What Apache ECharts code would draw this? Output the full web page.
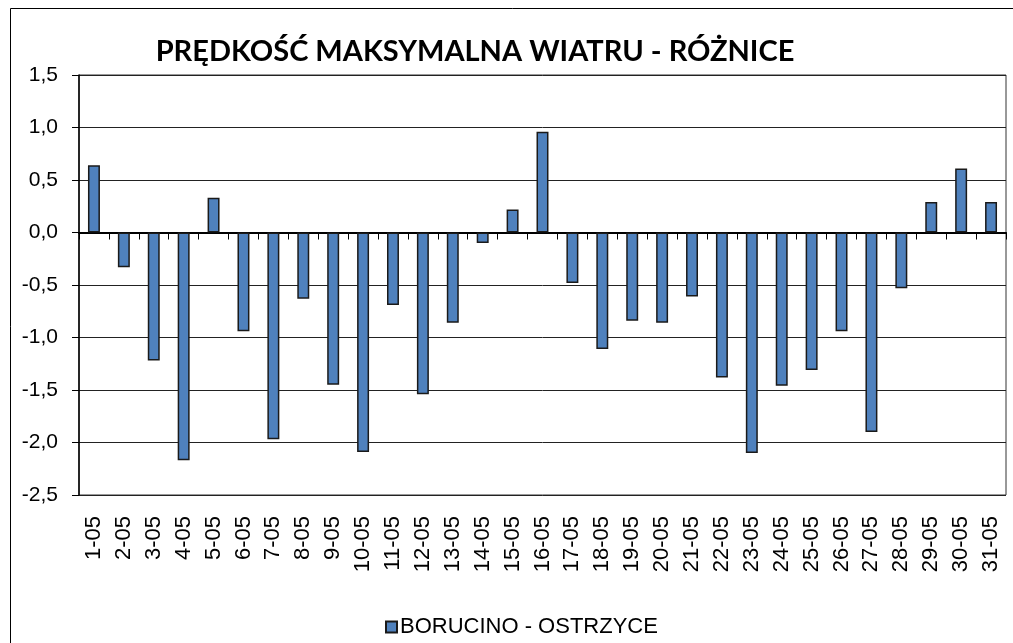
<!DOCTYPE html>
<html>
<head>
<meta charset="utf-8">
<script src="https://cdn.jsdelivr.net/npm/echarts@6/dist/echarts.min.js"></script>
<style>
  html, body { margin: 0; padding: 0; background: #fff; }
  #chart { width: 1013px; height: 643px; }
</style>
</head>
<body>
<div id="chart"></div>
<script>
// dni maja
const days = [
  '1-05', '2-05', '3-05', '4-05', '5-05', '6-05', '7-05', '8-05', '9-05', '10-05',
  '11-05', '12-05', '13-05', '14-05', '15-05', '16-05', '17-05', '18-05', '19-05', '20-05',
  '21-05', '22-05', '23-05', '24-05', '25-05', '26-05', '27-05', '28-05', '29-05', '30-05', '31-05'
]
// różnice prędkości maksymalnej wiatru
const diffs = [
  0.64, -0.33, -1.22, -2.17, 0.33, -0.94, -1.97, -0.63, -1.45, -2.09,
  -0.69, -1.54, -0.86, -0.10, 0.22, 0.96, -0.48, -1.11, -0.84, -0.86,
  -0.61, -1.38, -2.10, -1.46, -1.31, -0.94, -1.90, -0.53, 0.29, 0.61, 0.29
]
const seriesName = 'BORUCINO - OSTRZYCE'
const titleText = 'PRĘDKOŚĆ MAKSYMALNA WIATRU - RÓŻNICE'

const chart = echarts.init(document.getElementById('chart'))

chart.setOption({
  animation: false,
  title: {
    text: titleText,
    left: 470,
    top: 32,
    textAlign: 'center',
    textStyle: {
      fontFamily: 'Lato',
      fontWeight: 'bold',
      fontSize: 29,
      color: '#000'
    }
  },
  graphic: [{
    type: 'rect',
    shape: { x: 10.5, y: 8.5, width: 1010, height: 640 },
    style: { fill: 'none', stroke: '#000', lineWidth: 1 },
    silent: true,
    z: -1
  }],
  legend: {
    data: [seriesName],
    left: 380,
    top: 611,
    itemWidth: 11,
    itemHeight: 11,
    itemGap: 4,
    icon: 'rect',
    textStyle: {
      fontFamily: 'Liberation Sans',
      fontSize: 22,
      color: '#000',
      padding: [0, 0, 0, -2]
    }
  },
  grid: {
    left: 79,
    right: 7,
    top: 75,
    bottom: 148,
    show: true,
    borderColor: '#333',
    borderWidth: 1
  },
  xAxis: {
    type: 'category',
    data: days,
    axisLine: { lineStyle: { color: '#000', width: 2 } },
    axisTick: { show: true, length: 7, alignWithLabel: false, lineStyle: { color: '#000', width: 1 } },
    axisLabel: {
      rotate: 90,
      interval: 0,
      margin: 21,
      fontFamily: 'Liberation Sans',
      fontSize: 22,
      color: '#000'
    }
  },
  yAxis: {
    type: 'value',
    min: -2.5,
    max: 1.5,
    interval: 0.5,
    axisLine: { show: true, lineStyle: { color: '#000', width: 1.5 } },
    axisTick: { show: true, length: 7, lineStyle: { color: '#000' } },
    splitLine: { lineStyle: { color: '#222', width: 1 } },
    axisLabel: {
      margin: 21,
      fontFamily: 'Liberation Sans',
      fontSize: 21,
      color: '#000',
      formatter: v => v.toFixed(1).replace('.', ',')
    }
  },
  series: [{
    name: seriesName,
    type: 'bar',
    data: diffs,
    barWidth: '40%',
    itemStyle: {
      color: '#4f81bd',
      borderColor: '#1a1a1a',
      borderWidth: 1.5
    }
  }]
})
</script>
</body>
</html>
